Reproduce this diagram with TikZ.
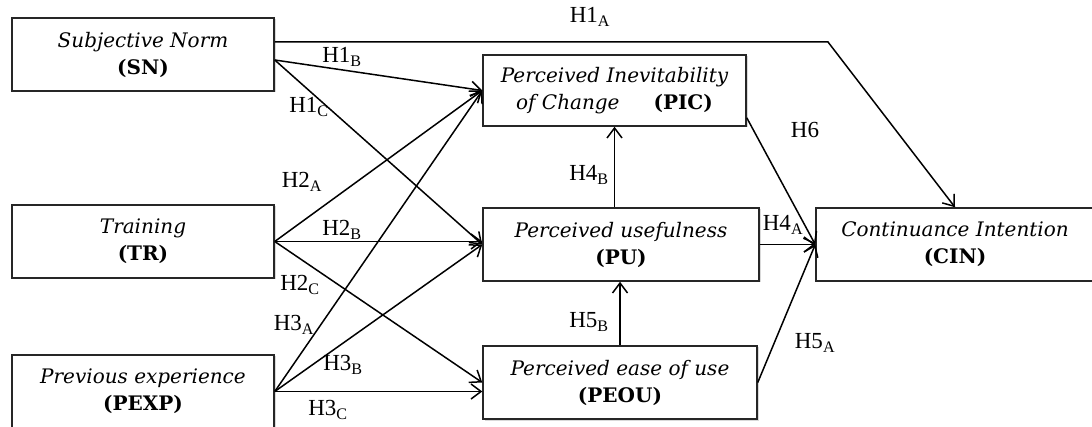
\documentclass[tikz,border=0pt]{standalone}
\usepackage{fontspec}
\setmainfont{Liberation Serif}
\newfontfamily\boxit{DejaVu Serif}
\usetikzlibrary{arrows.meta,calc,shadows}
\begin{document}
\begin{tikzpicture}[x=1pt,y=-1pt,
  box/.style={draw=black!85, line width=1.5pt, fill=white, rectangle, inner sep=0pt,
     align=center, font=\fontsize{20}{27}\selectfont,
     drop shadow={shadow xshift=1.5pt, shadow yshift=-1.5pt, opacity=.3}},
  arr/.style={-{Straight Barb[length=10pt,width=15pt,line width=1.5pt]}, line width=1.5pt},
  lbl/.style={font=\fontsize{23}{26}\selectfont, inner sep=0pt}]
\useasboundingbox (0,0) rectangle (1092,427);
\node[box, minimum width=262pt, minimum height=73pt] (sn) at (143,54.5)
  {\boxit\itshape Subjective Norm\\ \boxit\bfseries (SN)};
\node[box, minimum width=262pt, minimum height=73pt] (tr) at (143,241.5)
  {\boxit\itshape Training\\ \boxit\bfseries (TR)};
\node[box, minimum width=262pt, minimum height=73pt] (pexp) at (143,391.5)
  {\boxit\itshape Previous experience\\ \boxit\bfseries (PEXP)};
\node[box, minimum width=263pt, minimum height=71pt] (pic) at (614.5,90.5)
  {\boxit\itshape Perceived Inevitability\\ \boxit\itshape of Change\hspace{34pt}\boxit\upshape\bfseries (PIC)};
\node[box, minimum width=276pt, minimum height=73pt] (pu) at (621,244.5)
  {\boxit\itshape Perceived usefulness\\ \boxit\bfseries (PU)};
\node[box, minimum width=274pt, minimum height=73pt] (peou) at (620,382.5)
  {\boxit\itshape Perceived ease of use\\ \boxit\bfseries (PEOU)};
\node[box, minimum width=278pt, minimum height=73pt] (cin) at (955,244.5)
  {\boxit\itshape Continuance Intention\\ \boxit\bfseries (CIN)};
% source points
\coordinate (snout) at ($(sn.east)+(0,5.5)$);
\coordinate (c1) at (828,42);
\coordinate (picout) at ($(pic.south east)+(0,-9)$);
% connectors
\draw[arr] (sn.east |- c1) -- (c1) -- (cin.north);
\draw[arr] (snout) -- (pic.west);
\draw[arr] (snout) -- (pu.west);
\draw[arr] (tr.east) -- (pic.west);
\draw[arr] (tr.east) -- (tr.east -| pu.west);
\draw[arr] (tr.east) -- (peou.west);
\draw[arr] (pexp.east) -- (pic.west);
\draw[arr] (pexp.east) -- (pu.west);
\draw[arr] (pexp.east) -- (pexp.east -| peou.west);
\draw[arr] (pu.north -| pic.south) -- (pic.south);
\draw[arr] (peou.north) -- (peou.north |- pu.south);
\draw[arr] (picout) -- (cin.west);
\draw[arr] (pu.east) -- (cin.west);
\draw[arr] (peou.east) -- (cin.west);
% labels
\node[lbl] (l1a) at (590,17) {H1\textsubscript{A}};
\node[lbl] (l1b) at (342,57) {H1\textsubscript{B}};
\node[lbl] (l1c) at (309,107) {H1\textsubscript{C}};
\node[lbl] (l2a) at (302,182) {H2\textsubscript{A}};
\node[lbl] (l2b) at (342,230) {H2\textsubscript{B}};
\node[lbl] (l2c) at (300,285) {H2\textsubscript{C}};
\node[lbl] (l3a) at (294,325) {H3\textsubscript{A}};
\node[lbl] (l3b) at (343,365) {H3\textsubscript{B}};
\node[lbl] (l3c) at (328,410) {H3\textsubscript{C}};
\node[lbl] (l4b) at (589,175) {H4\textsubscript{B}};
\node[lbl] (l5b) at (589,322) {H5\textsubscript{B}};
\node[lbl] (l4a) at (783,225) {H4\textsubscript{A}};
\node[lbl] (l6) at (805,130) {H6};
\node[lbl] (l5a) at (815,343) {H5\textsubscript{A}};
\end{tikzpicture}
\end{document}
